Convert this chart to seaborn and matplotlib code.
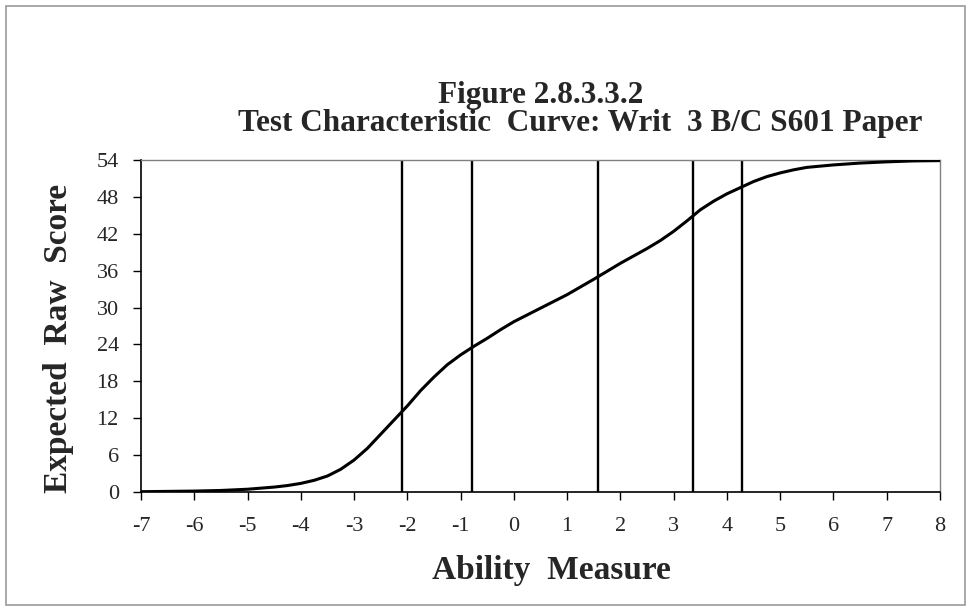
import numpy as np
import pandas as pd
import seaborn as sns
import matplotlib
matplotlib.use("Agg")
import matplotlib.pyplot as plt
from matplotlib.patches import Rectangle

# test characteristic curve
ability = [-7, -6.5, -6, -5.5, -5, -4.5, -4.25, -4, -3.75, -3.5, -3.25, -3, -2.75, -2.5,
           -2.25, -2, -1.75, -1.5, -1.25, -1, -0.75, -0.5, -0.25,
           0, 0.5, 1, 1.5, 2, 2.5, 2.75, 3, 3.25, 3.5, 3.75, 4, 4.25, 4.5, 4.75,
           5, 5.25, 5.5, 5.75, 6, 6.5, 7, 7.5, 8]
raw_score = [0.05, 0.1, 0.15, 0.25, 0.45, 0.8, 1.05, 1.4, 1.9, 2.6, 3.7, 5.2, 7.1, 9.4,
             11.7, 14.0, 16.5, 18.7, 20.7, 22.3, 23.7, 25.0, 26.4,
             27.7, 29.9, 32.1, 34.6, 37.2, 39.6, 40.9, 42.4, 44.1, 45.9, 47.3, 48.5, 49.5, 50.5, 51.3,
             51.9, 52.4, 52.8, 53.0, 53.2, 53.5, 53.7, 53.85, 53.9]
# cut scores (vertical lines)
cuts = [-2.1, -0.78, 1.58, 3.36, 4.28]

y_ticks = [0, 6, 12, 18, 24, 30, 36, 42, 48, 54]
x_ticks = list(range(-7, 9))

df = pd.DataFrame({"ability": ability, "score": raw_score})

sns.set_style("white")
plt.rcParams['font.family'] = ['Liberation Serif', 'DejaVu Serif']

fig = plt.figure(figsize=(9.71, 6.11), dpi=100)
ax = fig.add_axes([141/971, 1 - 492/611, (940 - 141)/971, (492 - 160)/611])

for c in cuts:
    ax.axvline(c, color='black', lw=1.7, zorder=2)

sns.lineplot(data=df, x="ability", y="score", color='black', lw=2.2, ax=ax, zorder=3)

ax.set_xlim(-7, 8)
ax.set_ylim(0, 54)
ax.set_xticks(x_ticks)
ax.set_yticks(y_ticks)
ax.set_xticklabels([str(v) for v in x_ticks])
ax.tick_params(axis='both', direction='out', length=6, width=1, color='black',
               labelsize=16, left=True, bottom=True)
ax.tick_params(axis='y', pad=10)
ax.tick_params(axis='x', pad=12)

for side in ['left', 'bottom']:
    ax.spines[side].set_color('black')
    ax.spines[side].set_linewidth(1.2)
for side in ['top', 'right']:
    ax.spines[side].set_color('#808080')
    ax.spines[side].set_linewidth(1)

ax.set_xlabel("")
ax.set_ylabel("")
fig.text(551/971, 1 - 570/611, "Ability  Measure", ha='center', va='center',
         fontsize=24, fontweight='bold')
fig.text(58/971, 1 - 338/611, "Expected  Raw  Score", ha='center', va='center',
         rotation=90, fontsize=24, fontweight='bold')

fig.text(541/971, 1 - 95/611, "Figure 2.8.3.3.2", ha='center', va='center',
         fontsize=22.5, fontweight='bold')
fig.text(580/971, 1 - 123/611, "Test Characteristic  Curve: Writ  3 B/C S601 Paper",
         ha='center', va='center', fontsize=22.5, fontweight='bold')

fig.patches.append(Rectangle((6/971, 6/611), 959/971, 599/611, transform=fig.transFigure,
                             fill=False, edgecolor='#999999', lw=1.2))

fig.savefig("out.png", dpi=100)
